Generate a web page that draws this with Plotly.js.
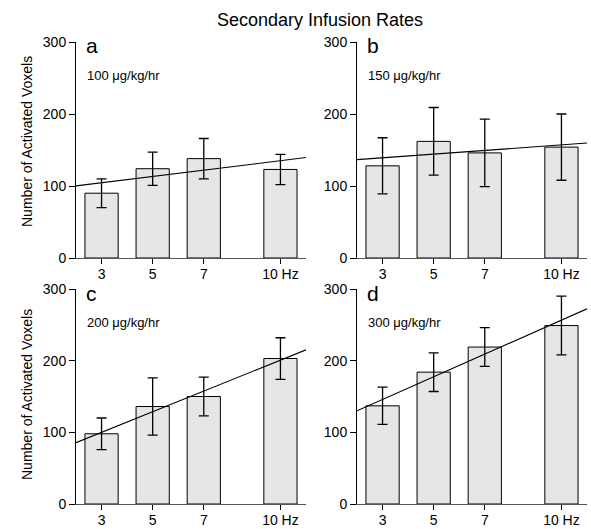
<!DOCTYPE html>
<html>
<head>
<meta charset="utf-8">
<script src="https://cdn.plot.ly/plotly-3.0.1.min.js"></script>
<style>html,body{margin:0;padding:0;background:#fff;}#chart{width:591px;height:529px;}</style>
</head>
<body>
<div id="chart"></div>
<script>
// Frequencies (Hz)
const freqs = [3, 5, 7, 10];
const tickLabels = ["3", "5", "7", "10 Hz"];
const panelLetters = ["a", "b", "c", "d"];
const doses = ["100 μg/kg/hr", "150 μg/kg/hr", "200 μg/kg/hr", "300 μg/kg/hr"];

// Mean number of activated voxels and error (SEM)
const meansA = [90, 124, 138, 123];
const errA   = [20, 23, 28, 21];
const meansB = [128, 162, 146, 154];
const errB   = [39, 47, 47, 46];
const meansC = [98, 136, 150, 203];
const errC   = [22, 40, 27, 29];
const meansD = [137, 184, 219, 249];
const errD   = [26, 27, 27, 41];

const allMeans = [meansA, meansB, meansC, meansD];
const allErr = [errA, errB, errC, errD];

const xRange = [2, 11];
const FONT = "Arial, 'Liberation Sans', sans-serif";

function linfit(x, y) {
  const n = x.length;
  const mx = x.reduce((a, b) => a + b, 0) / n;
  const my = y.reduce((a, b) => a + b, 0) / n;
  let sxy = 0, sxx = 0;
  for (let i = 0; i < n; i++) { sxy += (x[i] - mx) * (y[i] - my); sxx += (x[i] - mx) ** 2; }
  const m = sxy / sxx;
  return { m: m, b: my - m * mx };
}

const W = 591, H = 529;
const xDomPx = [[76, 306], [357, 587], [76, 306], [357, 587]];
const yDomPx = [[42, 258], [42, 258], [289, 504], [289, 504]];

const traces = [];
const layout = {
  width: W, height: H,
  margin: { l: 0, r: 0, t: 0, b: 0 },
  paper_bgcolor: "#fff", plot_bgcolor: "rgba(0,0,0,0)",
  showlegend: false,
  font: { family: FONT, size: 14, color: "#000" },
  bargap: 0,
  annotations: [],
  shapes: []
};

for (let p = 0; p < 4; p++) {
  const suffix = p === 0 ? "" : String(p + 1);
  const xa = "x" + suffix, ya = "y" + suffix;
  traces.push({
    type: "bar", x: freqs, y: allMeans[p], width: 1.3,
    xaxis: xa, yaxis: ya,
    marker: { color: "#e6e6e6", line: { color: "#000", width: 1 } },
    error_y: { type: "data", array: allErr[p], visible: true, color: "#000", thickness: 1.3, width: 5 },
    hoverinfo: "none"
  });
  const f = linfit(freqs, allMeans[p]);
  traces.push({
    type: "scatter", mode: "lines",
    x: xRange, y: xRange.map(v => f.m * v + f.b),
    xaxis: xa, yaxis: ya,
    line: { color: "#000", width: 1.1 },
    cliponaxis: true, hoverinfo: "none"
  });
  const xd = [xDomPx[p][0] / W, xDomPx[p][1] / W];
  const yd = [1 - yDomPx[p][1] / H, 1 - yDomPx[p][0] / H];
  layout["xaxis" + suffix] = {
    domain: xd, range: xRange, anchor: ya,
    tickmode: "array", tickvals: freqs, ticktext: tickLabels,
    ticks: "outside", ticklen: 5, tickwidth: 1, tickcolor: "#000",
    ticklabelstandoff: -2,
    showline: true, linecolor: "#555", linewidth: 1,
    showgrid: false, zeroline: false,
    tickfont: { family: FONT, size: 14, color: "#000" },
    fixedrange: true
  };
  layout["yaxis" + suffix] = {
    domain: yd, range: [0, 300], anchor: xa,
    tickvals: [0, 100, 200, 300],
    ticks: "outside", ticklen: 6, tickwidth: 1, tickcolor: "#000",
    showline: true, linecolor: "#000", linewidth: 1,
    showgrid: false, zeroline: false,
    tickfont: { family: FONT, size: 14, color: "#000" },
    fixedrange: true
  };
  // panel letter
  layout.annotations.push({
    xref: "paper", yref: "paper",
    x: (xDomPx[p][0] + 8) / W, y: 1 - (yDomPx[p][0] + 4) / H,
    xanchor: "left", yanchor: "middle",
    text: panelLetters[p], showarrow: false,
    font: { family: FONT, size: 21, color: "#000" }
  });
  // dose
  layout.annotations.push({
    xref: "paper", yref: "paper",
    x: (xDomPx[p][0] + 9) / W, y: 1 - (yDomPx[p][0] + 33) / H,
    xanchor: "left", yanchor: "middle",
    text: doses[p], showarrow: false,
    font: { family: FONT, size: 13, color: "#000" }
  });
}

// y axis titles
[[142], [395]].forEach(function (c) {
  layout.annotations.push({
    xref: "paper", yref: "paper",
    x: 27 / W, y: 1 - c[0] / H,
    xanchor: "center", yanchor: "middle",
    text: "Number of Activated Voxels", textangle: -90, showarrow: false,
    font: { family: FONT, size: 14, color: "#000" }
  });
});

// main title
layout.annotations.push({
  xref: "paper", yref: "paper",
  x: 320 / W, y: 1 - 20 / H,
  xanchor: "center", yanchor: "middle",
  text: "Secondary Infusion Rates", showarrow: false,
  font: { family: FONT, size: 18, color: "#000" }
});

Plotly.newPlot("chart", traces, layout, { displayModeBar: false, staticPlot: true });
</script>
</body>
</html>
